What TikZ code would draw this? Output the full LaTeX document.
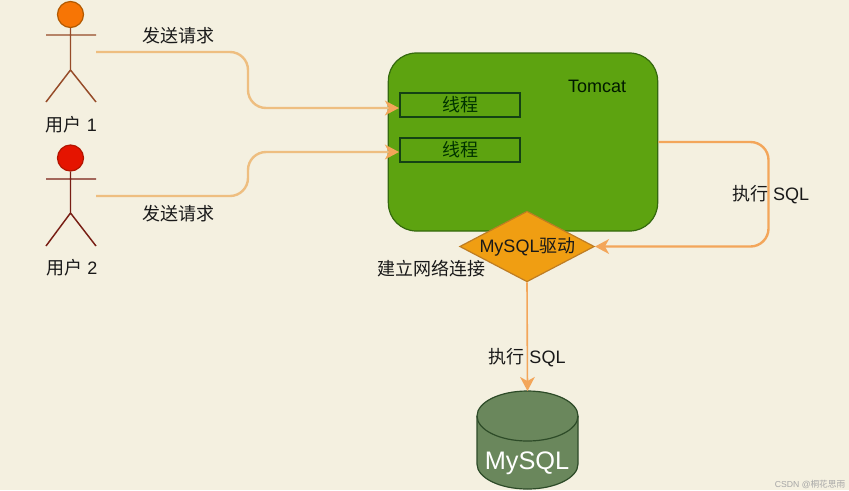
\documentclass[tikz,border=0pt]{standalone}
\usepackage{fontspec}
\setmainfont{Liberation Sans}
\newfontfamily\cjk{Noto Sans CJK SC}
\usetikzlibrary{shapes.geometric,arrows.meta}
\definecolor{paper}{RGB}{244,240,224}
\definecolor{wire}{RGB}{243,166,90}
\definecolor{wirelight}{RGB}{238,190,128}
\definecolor{tomgreen}{RGB}{93,163,16}
\definecolor{tomline}{RGB}{52,105,14}
\definecolor{darkline}{RGB}{20,66,20}
\definecolor{drvfill}{RGB}{240,158,18}
\definecolor{drvline}{RGB}{190,125,35}
\definecolor{dbfill}{RGB}{106,135,92}
\definecolor{dbline}{RGB}{45,75,40}
\tikzset{
  txt/.style={inner sep=0.75pt,font=\fontsize{13.5pt}{16pt}\selectfont,text=black!90},
  link/.style={draw=wire,line width=1.8pt,rounded corners=13.5pt},
  linklight/.style={link,draw=wirelight},
  tip/.style={-{Stealth[length=10.5pt,width=11pt,inset=3pt,fill=wire,color=wire]}},
  threadbox/.style={draw=darkline,line width=1.5pt,minimum width=90pt,minimum height=18.5pt,inner sep=0pt,font=\fontsize{13.5pt}{16pt}\selectfont,text=black!80!green},
  head/.style={circle,line width=0.9pt,minimum size=19.5pt,inner sep=0pt},
  limb/.style={line width=1.1pt},
}
\begin{document}
\begin{tikzpicture}[x=0.75pt,y=0.75pt,yscale=-1,xscale=1]
\useasboundingbox [fill=paper] (0,0) rectangle (849,490);
% users
\node [head,draw=orange!70!black,fill={rgb,255:red,247;green,117;blue,5}] (head1) at (70.5,14.5) {};
\coordinate (hand1) at (96,52);
\draw [limb,draw={rgb,255:red,150;green,75;blue,40}] (head1) -- (70.5,70) -- (46,102) (70.5,70) -- (96,102) (46,35) -- (96,35);
\node [txt] (user1) at (71.5,125) {{\cjk 用户} 1};
\node [head,draw={rgb,255:red,178;green,20;blue,0},fill={rgb,255:red,229;green,20;blue,0}] (head2) at (70.5,158) {};
\coordinate (hand2) at (96,196);
\draw [limb,draw={rgb,255:red,120;green,30;blue,20}] (head2) -- (70.5,213) -- (46,246) (70.5,213) -- (96,246) (46,179) -- (96,179);
\node [txt] (user2) at (72,268) {{\cjk 用户} 2};
% tomcat
\node [draw=tomline,fill=tomgreen,line width=0.9pt,rounded corners=21pt,minimum width=202pt,minimum height=133.5pt,inner sep=0pt] (tomcat) at (523,142) {};
\node [txt,text=black!90!green] (tomcatname) at (597,86) {Tomcat};
\node [threadbox] (thread1) at (460,105) {\raisebox{-1.2pt}{\cjk 线程}};
\node [threadbox] (thread2) at (460,150) {\raisebox{-1.2pt}{\cjk 线程}};
% driver and database
\node [diamond,draw=drvline,fill=drvfill,line width=0.9pt,minimum width=101pt,minimum height=53pt,inner sep=0pt] (driver) at (527,246.5) {};
\node [txt] (drivername) at (527.5,246.5) {MySQL{\cjk 驱动}};
\draw [draw=dbline,fill=dbfill,line width=0.9pt] (477,416) .. controls (477,402.2) and (499.6,391) .. (527.5,391) .. controls (555.4,391) and (578,402.2) .. (578,416) -- (578,464) .. controls (578,477.8) and (555.4,489) .. (527.5,489) .. controls (499.6,489) and (477,477.8) .. (477,464) -- cycle;
\draw [draw=dbline,line width=0.9pt] (477,416) .. controls (477,429.8) and (499.6,441) .. (527.5,441) .. controls (555.4,441) and (578,429.8) .. (578,416);
\coordinate (dbtop) at (527.5,391);
\node [inner sep=0pt,font=\fontsize{19pt}{22pt}\selectfont,text=white] (dbname) at (527,463) {MySQL};
% connectors
\draw [linklight,tip] (hand1) -| (248,108) -- (thread1.west |- 0,108);
\draw [linklight,tip] (hand2) -| (248,152) -- (thread2.west |- 0,152);
\draw [link,tip] (tomcat.east |- 0,142) -| (768.5,246.5) -- (driver.east);
\draw [link,line width=1.2pt,tip] (driver.south) -- (dbtop);
% labels
\node [txt] (send1) at (178.5,36) {\cjk 发送请求};
\node [txt] (send2) at (178.5,214) {\cjk 发送请求};
\node [txt] (run1) at (770.5,194.5) {{\cjk 执行} SQL};
\node [txt] (connect) at (431,269) {\cjk 建立网络连接};
\node [txt] (run2) at (527,358) {{\cjk 执行} SQL};
\node [inner sep=0pt,font=\fontsize{6.5pt}{8pt}\selectfont,text=black!35] (mark) at (810,484.5) {CSDN @{\cjk 桐花思雨}};
\end{tikzpicture}
\end{document}
